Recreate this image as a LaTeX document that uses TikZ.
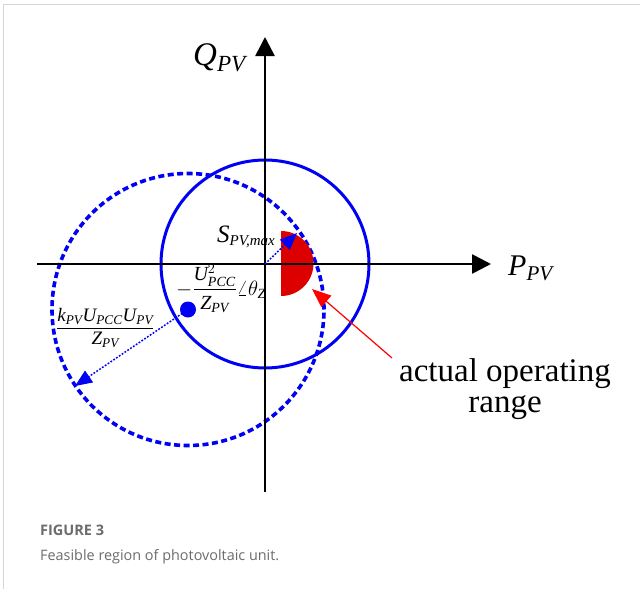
\documentclass[tikz,border=0pt]{standalone}
\usepackage{amsmath}
\usepackage{fontspec}
\setmainfont{Liberation Serif}
\newfontfamily\capfont{Open Sans}
\usetikzlibrary{arrows.meta}
\definecolor{myblue}{RGB}{0,0,245}
\definecolor{regred}{RGB}{220,0,0}
\definecolor{framegray}{RGB}{214,214,214}
\definecolor{capgray}{RGB}{108,108,108}
\newcommand{\mi}[1]{\mathit{#1}}
\tikzset{
  axis/.style={line width=2.6pt,-{Triangle[length=19pt,width=19pt]}},
  solidcirc/.style={draw=myblue,line width=3pt},
  dashcirc/.style={draw=myblue,line width=3.6pt,dash pattern=on 6pt off 3.5pt},
  dotarrow/.style={draw=myblue,line width=1.5pt,dash pattern=on 1.8pt off 1.6pt,-{Triangle[length=17pt,width=14pt]}},
  redarrow/.style={draw=red,line width=1.2pt,-{Triangle[length=19pt,width=15pt]}},
  lbl/.style={inner sep=0pt,anchor=base west},
  frameline/.style={draw=framegray,line width=1.4pt}
}
\begin{document}
\begin{tikzpicture}[x=1pt,y=-1pt]
\useasboundingbox (0,0) rectangle (640,589);
\fill[white] (0,0) rectangle (640,589);
% frame
\coordinate (fa) at (3.3,589);
\coordinate (fb) at (3.3,4.5);
\coordinate (fc) at (640,4.5);
\draw[frameline] (fa) -- (fb) -- (fc);
% coordinates
\coordinate (O) at (265,264);
\coordinate (C) at (188,309.5);
\coordinate (xl) at (37,264);
\coordinate (xr) at (491,264);
\coordinate (yb) at (265,492);
\coordinate (yt) at (265,37);
% circles
\draw[dashcirc] (C) circle[radius=136pt];
\draw[solidcirc] (O) circle[radius=104pt];
% red region
\fill[regred] (281,231) arc[start angle=90,end angle=-90,radius=32.5pt] -- cycle;
% axes
\draw[axis] (xl) -- (xr);
\draw[axis] (yb) -- (yt);
% blue dot and arrows
\fill[myblue] (C) circle[radius=8pt];
\coordinate (tS) at (297,233);
\coordinate (tK) at (75,386);
\draw[dotarrow] (O) -- (tS);
\draw[dotarrow] (C) -- (tK);
% red arrow
\coordinate (rs) at (392,358);
\coordinate (rt) at (312,289);
\draw[redarrow] (rs) -- (rt);
% labels
\node[lbl,font=\fontsize{33}{36}\selectfont] (Q) at (193,65) {$\mi{Q}_{\mi{PV}}$};
\node[lbl,font=\fontsize{30}{33}\selectfont] (P) at (508,275) {$\mi{P}_{\mi{PV}}$};
\node[lbl,font=\fontsize{25}{28}\selectfont\itshape] (S) at (217,242) {S\raisebox{-3pt}{\fontsize{15}{15}\selectfont PV,max}};
\node[lbl,font=\fontsize{20}{23}\selectfont] (U) at (176,295) {$-\dfrac{\mi{U}^{2}_{\mi{PCC}}}{\mi{Z}_{\mi{PV}}}\angle\theta_{\mi{Z}}$};
\node[lbl,font=\fontsize{19}{22}\selectfont] (K) at (56,333) {$\dfrac{\mi{k}_{\mi{PV}}\mi{U}_{\mi{PCC}}\mi{U}_{\mi{PV}}}{\mi{Z}_{\mi{PV}}}$};
\node[inner sep=0pt,anchor=base,font=\fontsize{33}{31}\selectfont] (A1) at (505,381) {actual operating};
\node[inner sep=0pt,anchor=base,font=\fontsize{33}{31}\selectfont] (A2) at (505,412) {range};
% caption
\node[lbl,font=\capfont\fontsize{14.5}{17}\selectfont\bfseries,text=capgray] (F) at (40,535) {FIGURE 3};
\node[lbl,font=\capfont\fontsize{14.4}{17}\selectfont,text=capgray] (D) at (40,560) {Feasible region of photovoltaic unit.};
\end{tikzpicture}
\end{document}
